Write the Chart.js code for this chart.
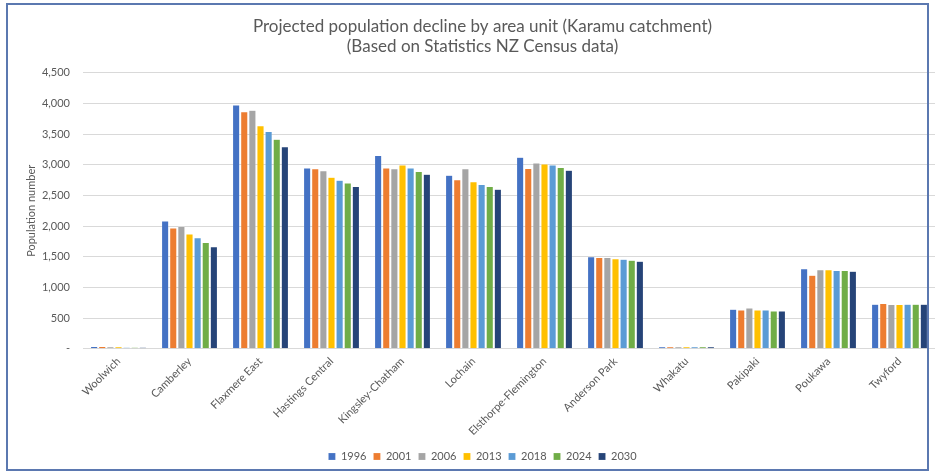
<!DOCTYPE html>
<html>
<head>
<meta charset="utf-8">
<script src="https://cdn.jsdelivr.net/npm/chart.js@4.4.1/dist/chart.umd.min.js"></script>
<style>
  html, body { margin: 0; padding: 0; background: #fff; overflow: hidden; }
  #wrap { position: relative; width: 935px; height: 475px; }
  #frame { position: absolute; left: 6px; top: 3px; width: 923px; height: 468px; border: 2px solid #5b78b0; box-sizing: border-box; pointer-events: none; }
  canvas { position: absolute; left: 0; top: 0; }
</style>
</head>
<body>
<div id="wrap">
  <canvas id="c" width="935" height="475"></canvas>
  <div id="frame"></div>
</div>
<script>
const categories = ["Woolwich", "Camberley", "Flaxmere East", "Hastings Central", "Kingsley-Chatham", "Lochain", "Elsthorpe-Flemington", "Anderson Park", "Whakatu", "Pakipaki", "Poukawa", "Twyford"];
const years = ["1996", "2001", "2006", "2013", "2018", "2024", "2030"];
const values1996 = [40, 2085, 3975, 2950, 3150, 2830, 3125, 1500, 33, 645, 1305, 728];
const values2001 = [40, 1970, 3865, 2935, 2950, 2755, 2940, 1488, 33, 632, 1200, 738];
const values2006 = [35, 1995, 3890, 2905, 2935, 2935, 3030, 1488, 33, 665, 1288, 722];
const values2013 = [35, 1872, 3635, 2798, 2995, 2722, 3015, 1470, 33, 632, 1288, 722];
const values2018 = [25, 1812, 3542, 2748, 2950, 2678, 2995, 1460, 33, 632, 1276, 726];
const values2024 = [25, 1735, 3416, 2704, 2890, 2645, 2956, 1444, 33, 618, 1276, 726];
const values2030 = [25, 1664, 3296, 2645, 2846, 2602, 2912, 1428, 33, 618, 1265, 726];
const seriesValues = [values1996, values2001, values2006, values2013, values2018, values2024, values2030];
const colors = ["#4472C4", "#ED7D31", "#A5A5A5", "#FFC000", "#5B9BD5", "#70AD47", "#264478"];
const yTicks = [0, 500, 1000, 1500, 2000, 2500, 3000, 3500, 4000, 4500];

const FONT = "Lato, 'Open Sans', sans-serif";
const GRAY = "#595959";

new Chart(document.getElementById("c"), {
  type: "bar",
  data: {
    labels: categories,
    datasets: years.map((y, i) => ({
      label: y,
      data: seriesValues[i],
      backgroundColor: colors[i],
      borderColor: "rgba(255,255,255,0.35)",
      borderWidth: 0.5,
      categoryPercentage: 0.8,
      barPercentage: 0.88
    }))
  },
  options: {
    responsive: false,
    animation: false,
    devicePixelRatio: 1,
    layout: { padding: { left: 25, right: -5, top: 6, bottom: 3 } },
    plugins: {
      title: {
        display: true,
        text: ["Projected population decline by area unit (Karamu catchment)", "(Based on Statistics NZ Census data)"],
        color: GRAY,
        font: { family: FONT, size: 17, weight: "normal", lineHeight: 1.2 },
        padding: { top: 10, bottom: 16 }
      },
      legend: {
        position: "bottom",
        labels: {
          color: GRAY,
          font: { family: FONT, size: 11 },
          boxWidth: 7,
          boxHeight: 7,
          padding: 7
        }
      },
      tooltip: { enabled: false }
    },
    scales: {
      x: {
        grid: { display: false, drawTicks: false },
        border: { display: true, color: "#d9d9d9", width: 1 },
        ticks: {
          color: GRAY,
          font: { family: FONT, size: 11 },
          maxRotation: 45,
          minRotation: 45,
          padding: 6,
          autoSkip: false
        }
      },
      y: {
        min: 0,
        max: 4500,
        afterBuildTicks: (axis) => { axis.ticks = yTicks.map(v => ({ value: v })); },
        afterFit: (axis) => { axis.width = 58; },
        grid: { color: "#d9d9d9", lineWidth: 1, drawTicks: false },
        border: { display: false },
        ticks: {
          color: GRAY,
          font: { family: FONT, size: 11 },
          padding: 13,
          callback: (v) => v === 0 ? "-" : v.toLocaleString("en-US")
        },
        title: {
          display: true,
          text: "Population number",
          color: GRAY,
          font: { family: FONT, size: 11 },
          padding: { top: 0, bottom: 4 }
        }
      }
    }
  }
});
</script>
</body>
</html>
